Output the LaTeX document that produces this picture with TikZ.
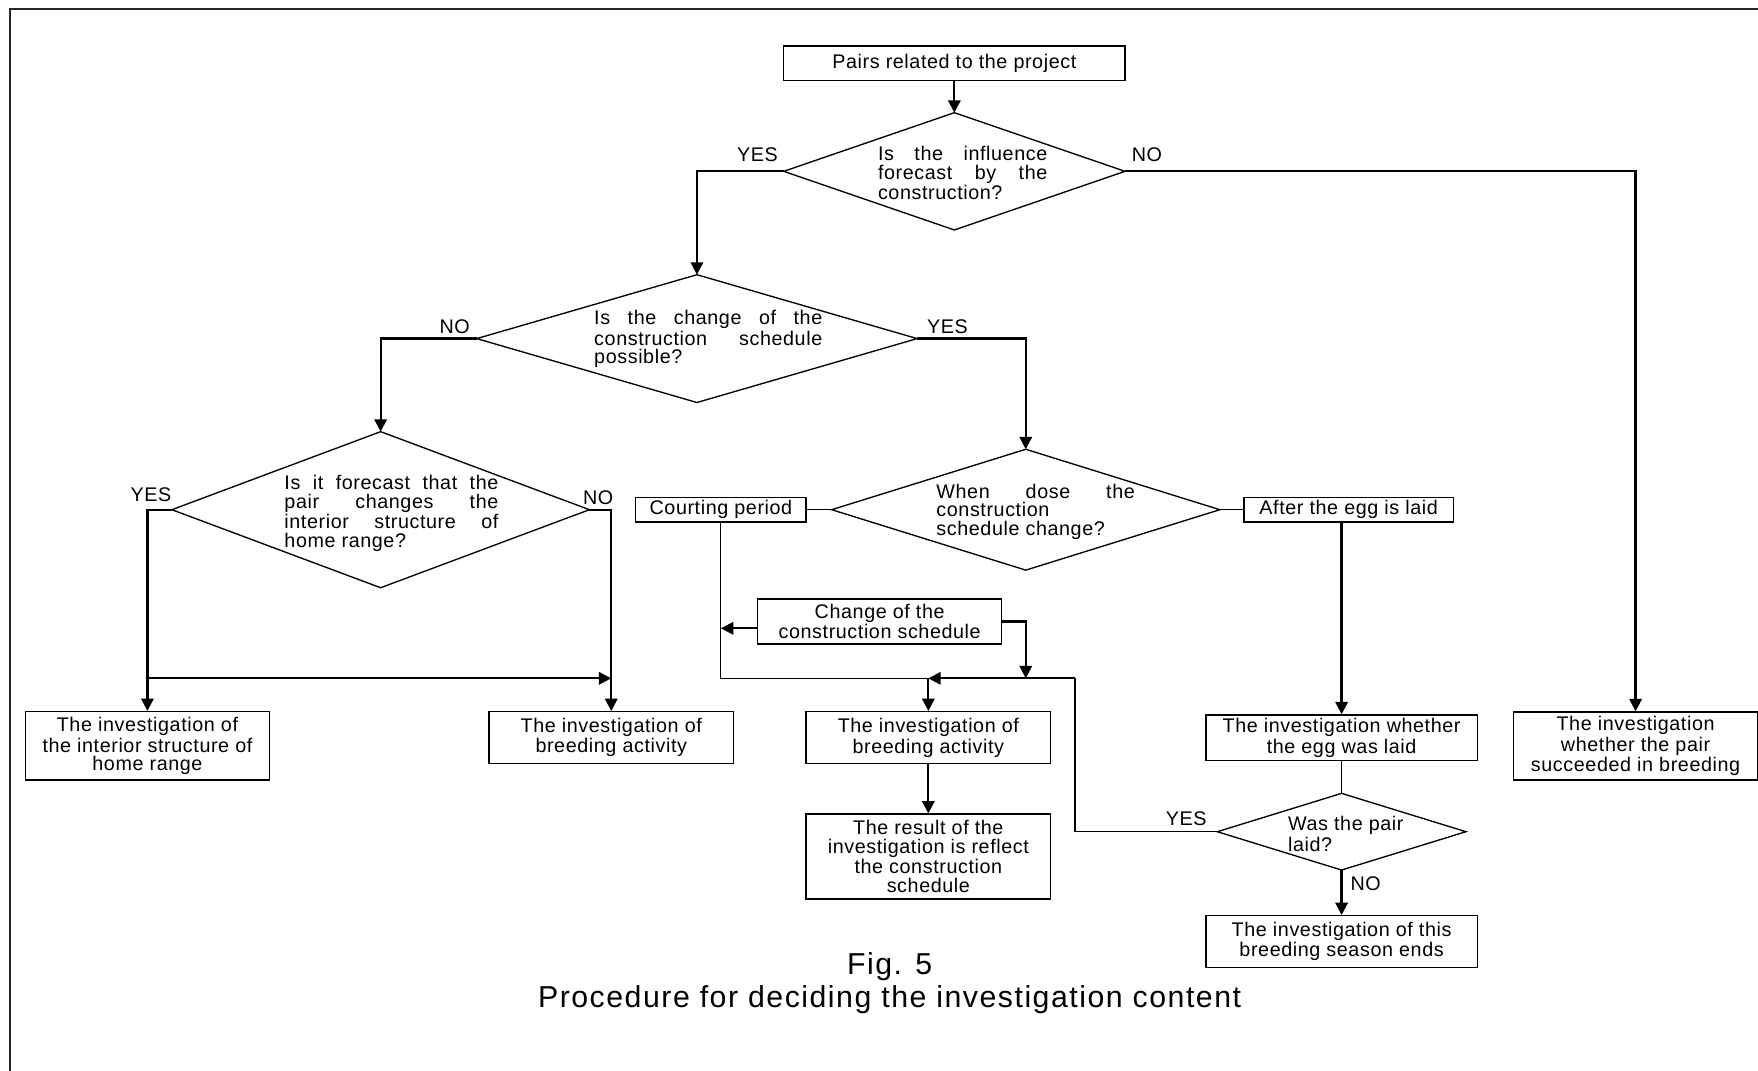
\documentclass[tikz,border=0pt]{standalone}
\usepackage{fontspec}
\setmainfont{Liberation Sans}[LetterSpace=3]
\newfontfamily\capfont{Liberation Sans}[LetterSpace=5]
\usetikzlibrary{calc,shapes.geometric,arrows.meta}

\begin{document}
\begin{tikzpicture}[x=0.5pt, y=-0.5pt, >={Triangle[length=5.5pt,width=5.5pt]},
  every node/.style={font=\fontsize{8.8}{8.2}\selectfont},
  box/.style={draw, line width=0.6pt, inner sep=0pt, align=center},
  decision/.style={draw, diamond, line width=0.6pt, inner sep=0pt, outer sep=0pt},
  qtext/.style={anchor=west, inner sep=0pt, align=justify, execute at begin node={\hbadness=10000\tolerance=10000}},
  lbl/.style={inner sep=0pt},
  arr/.style={->, line width=1pt},
  link/.style={line width=0.5pt}]
\useasboundingbox (0,0) rectangle (1568,955);
\draw[line width=0.9pt, black!85] (9,960) -- (9,8) -- (1570,8);

% start and first question
\node[box, minimum width=152.2pt, minimum height=15.5pt] (pairs) at (851.2,56.5) {Pairs related to the project};
\node[decision, minimum width=152.2pt, minimum height=52.3pt] (q1) at (851.2,152.8) {};
\node[qtext, text width=75.5pt] (q1t) at (782.7,154.6) {Is the influence\linebreak forecast by the\linebreak construction?};

% second level
\node[decision, minimum width=196.4pt, minimum height=57pt] (q2) at (621.6,302) {};
\node[qtext, text width=101.7pt] (q2t) at (529.6,302.4) {Is the change of the\linebreak construction schedule\linebreak possible?};
\node[box, minimum width=109pt, minimum height=30.4pt] (succ) at (1458.8,665.4) {The investigation\\whether the pair\\succeeded in breeding};

% left branch
\node[decision, minimum width=186.2pt, minimum height=69.6pt] (q3) at (339.5,454.6) {};
\node[qtext, text width=95.4pt] (q3t) at (253.3,458) {Is it forecast that the\linebreak pair changes the\linebreak interior structure of\linebreak home range?};
\node[box, minimum width=108.8pt, minimum height=30.5pt] (home) at (131.5,665.2) {The investigation of\\the interior structure of\\home range};
\node[box, minimum width=109.2pt, minimum height=23pt] (bredL) at (545.2,657.8) {The investigation of\\breeding activity};

% right branch
\node[decision, minimum width=173.1pt, minimum height=53.9pt] (q4) at (914.9,454.6) {};
\node[qtext, text width=88.5pt] (q4t) at (834.8,456.4) {When dose the\linebreak construction\linebreak schedule change?};
\node[box, minimum width=76pt, minimum height=11pt] (court) at (643,454.6) {Courting period};
\node[box, minimum width=93.4pt, minimum height=11pt] (after) at (1202.9,454.6) {After the egg is laid};
\node[box, minimum width=108.8pt, minimum height=20pt] (change) at (784.6,554.4) {Change of the\\construction schedule};
\node[box, minimum width=109pt, minimum height=23.2pt] (bredM) at (828,657.9) {The investigation of\\breeding activity};
\node[box, minimum width=109pt, minimum height=37.9pt] (result) at (828,764) {The result of the\\investigation is reflect\\the construction\\schedule};
\node[box, minimum width=121pt, minimum height=20.2pt] (eggbox) at (1196.6,657.9) {The investigation whether\\the egg was laid};
\node[decision, minimum width=110.9pt, minimum height=34.2pt] (eggq) at (1196.6,741.8) {};
\node[anchor=west, inner sep=0pt, align=left] (eggqt) at (1148.5,743.7) {Was the pair\\laid?};
\node[box, minimum width=121pt, minimum height=23pt] (ends) at (1196.6,839.7) {The investigation of this\\breeding season ends};

\node[font=\capfont\fontsize{13.5}{15}\selectfont, align=center, inner sep=0pt] (caption) at (793.5,877) {Fig. 5\\Procedure for deciding the investigation content};

% labels
\node[lbl] (y1) at (675.5,138) {YES};
\node[lbl] (n1) at (1023,138) {NO};
\node[lbl] (n2) at (405.5,291) {NO};
\node[lbl] (y2) at (845,291) {YES};
\node[lbl] (y3) at (134.6,441.5) {YES};
\node[lbl] (n3) at (533.5,443.7) {NO};
\node[lbl] (y4) at (1058,730) {YES};
\node[lbl] (n4) at (1218,788) {NO};

\coordinate (lrow) at (0,605);
\coordinate (merge) at (828,605);
\coordinate (turn) at (958.8,605);
\coordinate (cw) at ($(change.west)+(0,6)$);

\draw[arr] (pairs) -- (q1);
\draw[arr] (q1.west) -| (q2.north);
\draw[arr] (q1.east) -| (succ.north);
\draw[arr] (q2.west) -| (q3.north);
\draw[arr] (q2.east) -| (q4.north);
\draw[arr] (q3.west) -| (home.north);
\draw[arr] (q3.east) -| (bredL.north);
\draw[arr] (home.north |- lrow) -- (bredL.north |- lrow);
\draw[link] (court.east) -- (q4.west);
\draw[link] (q4.east) -- (after.west);
\draw[arr] (after.south -| eggbox.north) -- (eggbox.north);
\draw[link] (eggbox) -- (eggq);
\draw[arr] (eggq) -- (ends);
\draw[link] (eggq.west) -| (turn);
\draw[link] (court.south) |- (merge);
\draw[arr] (turn) -- (merge);
\draw[arr] (cw) -- (cw -| court.south);
\draw[arr] (change.east) -| (q4.south |- merge);
\draw[arr] (merge) -- (bredM.north);
\draw[arr] (bredM) -- (result);
\end{tikzpicture}
\end{document}
